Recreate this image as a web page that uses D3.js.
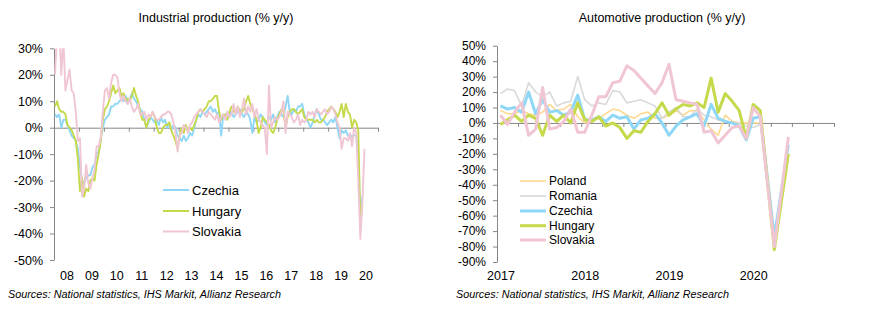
<!DOCTYPE html>
<html><head><meta charset="utf-8">
<script src="https://cdn.jsdelivr.net/npm/d3@7"></script>
<style>
body{margin:0;background:#fff;}
svg text{font-family:"Liberation Sans", Arial, sans-serif;fill:#000;}
</style></head><body>
<svg id="c" width="871" height="323"></svg>
<script>
// ---------- Industrial production (% y/y), monthly Jan 2008 – Jun 2020 ----------
const indYearLabels = ["08","09","10","11","12","13","14","15","16","17","18","19","20"];
const indCzechia = [
 5,4,5,0,3,3,1,-1,-3,-4,-5,-8,
 -15,-20,-21,-19,-18,-18,-15,-14,-10,-9,-4,0,
 3,4,5,8,8,9,9,10,11,10,12,9,
 11,13,11,10,8,7,6,3,0,2,4,3,
 2,3,1,4,2,3,0,2,-1,1,0,-3,
 -4,-5,-3,-5,-4,-2,-3,0,3,5,4,6,
 5,6,7,8,6,7,5,6,-3,5,4,6,
 5,6,4,5,6,7,5,4,6,5,3,-2,
 4,2,3,5,4,2,1,4,3,5,2,4,
 6,5,4,8,12,6,5,7,6,8,8,9,
 5,3,2,0,2,5,7,5,3,3,2,1,
 2,3,2,4,0,-4,-1,-2,-1,-3,-4,-3,
 -3,-3,-11,-33,-26];
const indHungary = [
 8,10,7,6,6,5,1,0,-1,-3,-5,-12,
 -24,-19,-26,-23,-24,-20,-19,-20,-14,-10,-5,3,
 7,8,10,13,16,13,14,15,12,13,10,11,
 10,12,15,12,10,6,3,3,0,3,4,6,
 4,0,-2,-2,0,1,1,2,-1,-3,-5,-8,
 -3,0,-2,1,-1,0,-1,1,3,6,7,6,
 7,8,10,10,11,12,12,6,3,5,5,3,
 6,8,6,6,8,6,6,7,10,12,9,7,
 5,3,-2,0,4,3,2,1,-1,-2,0,3,
 5,7,6,0,4,6,7,7,6,5,6,7,
 4,3,3,3,3,2,3,2,2,3,4,6,
 7,8,7,6,4,6,9,4,9,6,5,0,
 3,2,-1,-36,-29];
const indSlovakia = [
 20,36,38,20,34,14,18,22,14,13,6,-5,
 -4,-26,-23,-14,-21,-23,-19,-16,-7,-7,-4,6,
 14,15,11,17,20,20,19,13,10,12,10,9,
 11,8,6,7,9,5,5,6,3,5,4,6,
 4,3,3,4,5,5,6,6,5,2,-2,-9,
 -3,-2,1,0,-2,1,2,4,5,6,7,6,
 5,4,6,5,4,3,5,2,4,5,3,6,
 4,5,9,5,8,4,7,11,5,8,6,9,
 4,7,3,2,1,0,-10,16,0,2,4,3,
 4,6,10,-2,6,5,4,2,3,5,1,3,
 2,3,6,5,6,4,7,6,5,6,7,5,
 6,8,7,5,2,0,-8,-4,-4,-5,-2,-7,
 0,-2,-20,-42,-28,-8];

// ---------- Automotive production (% y/y), monthly Jan 2017 – Jun 2020 ----------
const autoYearLabels = ["2017","2018","2019","2020"];
const autoPoland = [8,6,6,8,6,5,7,12,8,9,12,4, 0,1,3,6,9,8,5,3,6,7,3,3, 5,8,5,8,8,2,-4,-8,5,1,0,0, 0,0];
const autoRomania = [19,22,21,11,26,20,17,20,11,13,14,30, 15,11,13,12,21,20,13,14,15,13,11,3, 7,10,4,4,9,5,4,2,1,0,0,-2, -3,-1];
const autoCzechia = [11,9,10,7,20,6,15,7,8,5,7,18, 2,2,4,1,5,3,4,-4,2,3,6,0, -8,-2,2,4,6,-2,12,3,1,0,-2,-11, 3,4,-35,-74,-44,-14];
const autoHungary = [-1,2,5,1,5,3,-8,5,1,5,0,13, 2,1,4,-2,0,-3,-10,-5,-6,1,6,13, 5,9,12,11,13,10,29,7,19,14,8,-10, 12,8,-37,-82,-51,-20];
const autoSlovakia = [5,-1,7,13,-8,-4,23,-4,-3,1,9,-6, -6,5,17,17,26,27,37,34,29,24,19,26, 38,15,14,13,12,-6,-5,-13,-8,-3,-2,-10, 10,4,-38,-80,-45,-9];

const sourceText = "Sources: National statistics, IHS Markit, Allianz Research";

const AXIS = "#868686";
const C = {Poland:"#ffd98f", Romania:"#d9d9d9", Czechia:"#8fd7f7", Hungary:"#c6d94b", Slovakia:"#f0c6d3"};

const svg = d3.select("#c");

function styleAxis(g, fs){
  g.selectAll(".domain").attr("stroke", AXIS);
  g.selectAll(".tick line").attr("stroke", AXIS);
  g.selectAll(".tick text").attr("font-size", fs).attr("fill","#000")
   .attr("font-family",'"Liberation Sans", Arial, sans-serif');
}

// ================= LEFT CHART =================
{
  const x = d3.scaleLinear().domain([0,156]).range([54,378]);
  const y = d3.scaleLinear().domain([-50,30]).range([260,48.3]);
  const g = svg.append("g");

  g.append("text").attr("x",216).attr("y",22).attr("text-anchor","middle")
    .attr("font-size",12.5).text("Industrial production (% y/y)");

  const ya = g.append("g").attr("transform","translate(54,0)")
    .call(d3.axisLeft(y).tickValues(d3.range(-50,31,10)).tickSize(4).tickSizeOuter(0)
      .tickPadding(7).tickFormat(d=>d+"%"));
  styleAxis(ya, 12.5);

  const za = g.append("g").attr("transform",`translate(0,${y(0)})`)
    .call(d3.axisBottom(x).tickValues(d3.range(0,157,12)).tickSize(4).tickSizeOuter(0).tickFormat(""));
  styleAxis(za, 12);

  const xa = g.append("g").attr("transform","translate(0,268)")
    .call(d3.axisBottom(x).tickValues(indYearLabels.map((d,i)=>i*12+6)).tickSize(0)
      .tickFormat((d,i)=>indYearLabels[i]));
  xa.select(".domain").remove();
  styleAxis(xa, 12.5);

  svg.append("clipPath").attr("id","clipL").append("rect")
    .attr("x",54).attr("y",48.3).attr("width",324).attr("height",212);

  const line = d3.line().x((d,i)=>x(i+0.5)).y(d=>y(d));
  const series = [["Czechia",indCzechia],["Hungary",indHungary],["Slovakia",indSlovakia]];
  const lg = g.append("g").attr("clip-path","url(#clipL)");
  series.forEach(([k,v])=>{
    lg.append("path").datum(v).attr("d",line).attr("fill","none")
      .attr("stroke",C[k]).attr("stroke-width",1.9).attr("stroke-linejoin","round");
  });

  const leg = [["Czechia",190],["Hungary",211],["Slovakia",231.5]];
  leg.forEach(([k,yy])=>{
    g.append("line").attr("x1",163).attr("x2",189).attr("y1",yy).attr("y2",yy)
      .attr("stroke",C[k]).attr("stroke-width",2);
    g.append("text").attr("x",192).attr("y",yy).attr("dy","0.36em")
      .attr("font-size",13).text(k);
  });

  g.append("text").attr("x",8).attr("y",298).attr("font-size",10).attr("font-style","italic")
    .attr("textLength",273).attr("lengthAdjust","spacingAndGlyphs")
    .style("font-family",'"Liberation Sans Narrow","Arial Narrow","Liberation Sans",sans-serif')
    .text(sourceText);
}

// ================= RIGHT CHART =================
{
  const x = d3.scaleLinear().domain([0,48]).range([497,834]);
  const y = d3.scaleLinear().domain([-90,50]).range([262,45.7]);
  const g = svg.append("g");

  g.append("text").attr("x",662).attr("y",22).attr("text-anchor","middle")
    .attr("font-size",12.5).text("Automotive production (% y/y)");

  const ya = g.append("g").attr("transform","translate(497,0)")
    .call(d3.axisLeft(y).tickValues(d3.range(-90,51,10)).tickSize(4).tickSizeOuter(0)
      .tickPadding(7).tickFormat(d=>d+"%"));
  styleAxis(ya, 12);

  const za = g.append("g").attr("transform",`translate(0,${y(0)})`)
    .call(d3.axisBottom(x).tickValues(d3.range(0,49,3)).tickSize(4).tickSizeOuter(0).tickFormat(""));
  styleAxis(za, 12);

  const xa = g.append("g").attr("transform","translate(0,268)")
    .call(d3.axisBottom(x).tickValues(autoYearLabels.map((d,i)=>i*12+0.5)).tickSize(0)
      .tickFormat((d,i)=>autoYearLabels[i]));
  xa.select(".domain").remove();
  styleAxis(xa, 12.5);

  const line = d3.line().x((d,i)=>x(i+0.5)).y(d=>y(d));
  const series = [["Poland",autoPoland,1.6],["Romania",autoRomania,1.6],["Czechia",autoCzechia,3],
                  ["Hungary",autoHungary,3],["Slovakia",autoSlovakia,3]];
  series.forEach(([k,v,w])=>{
    g.append("path").datum(v).attr("d",line).attr("fill","none")
      .attr("stroke",C[k]).attr("stroke-width",w).attr("stroke-linejoin","round");
  });

  const leg = [["Poland",181,1.6],["Romania",196,1.6],["Czechia",211,3],["Hungary",225.7,3],["Slovakia",240,3]];
  leg.forEach(([k,yy,w])=>{
    g.append("line").attr("x1",520).attr("x2",546).attr("y1",yy).attr("y2",yy)
      .attr("stroke",C[k]).attr("stroke-width",w);
    g.append("text").attr("x",549).attr("y",yy).attr("dy","0.36em")
      .attr("font-size",12).text(k);
  });

  g.append("text").attr("x",456).attr("y",298).attr("font-size",10).attr("font-style","italic")
    .attr("textLength",273).attr("lengthAdjust","spacingAndGlyphs")
    .style("font-family",'"Liberation Sans Narrow","Arial Narrow","Liberation Sans",sans-serif')
    .text(sourceText);
}
</script>
</body></html>
